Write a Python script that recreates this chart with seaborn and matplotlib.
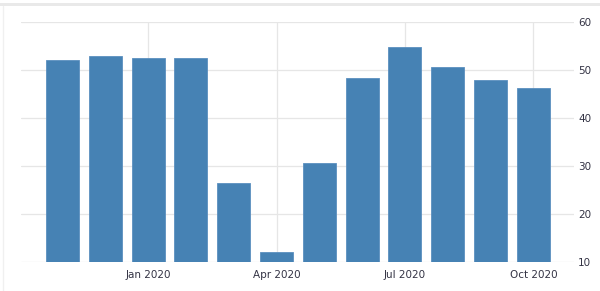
import matplotlib
matplotlib.use("Agg")
import matplotlib.pyplot as plt
import seaborn as sns
import pandas as pd
from matplotlib.patches import Rectangle
from matplotlib.lines import Line2D

months = ["Nov 2019", "Dec 2019", "Jan 2020", "Feb 2020", "Mar 2020", "Apr 2020",
          "May 2020", "Jun 2020", "Jul 2020", "Aug 2020", "Sep 2020", "Oct 2020"]
values = [52.0, 52.9, 52.5, 52.6, 26.4, 12.0, 30.6, 48.3, 54.7, 50.6, 48.0, 46.2]
shown_ticks = ["Jan 2020", "Apr 2020", "Jul 2020", "Oct 2020"]
y_ticks = [10, 20, 30, 40, 50, 60]

df = pd.DataFrame({"month": months, "value": values})

sns.set_theme(style="white")
plt.rcParams['font.family'] = ['DejaVu Sans']

fig = plt.figure(figsize=(6.0, 2.91), dpi=100)
ax = fig.add_axes([21/600, 29/291, (574-21)/600, (262-22)/291])

sns.barplot(data=df, x="month", y="value", color="#4682b4", saturation=1,
            width=0.77, ax=ax, edgecolor="#5b8fbf", linewidth=0.6, zorder=3)

ax.set_ylim(10, 60)
ax.set_xlim(-0.97, 11.95)
ax.set_yticks(y_ticks)
ax.yaxis.tick_right()
ax.set_yticklabels([str(t) for t in y_ticks])
tick_pos = [months.index(m) for m in shown_ticks]
ax.set_xticks(tick_pos)
ax.set_xticklabels(shown_ticks)
ax.set_xlabel("")
ax.set_ylabel("")
for s in ax.spines.values():
    s.set_visible(False)

ax.grid(True, axis="both", color="#e6e6e6", linewidth=0.9, zorder=0)
ax.set_axisbelow(True)
ax.tick_params(axis="x", length=4, color="#d8d8d8", width=0.9, pad=2,
               labelsize=7.5, labelcolor="#333344")
ax.tick_params(axis="y", length=0, pad=3, labelsize=7.5, labelcolor="#333344")

# screenshot frame: top band and faint left line
fig.add_artist(Rectangle((0, 1 - 6/291), 1, 3/291, transform=fig.transFigure,
                         facecolor="#e9e9e9", edgecolor="none"))
fig.add_artist(Line2D([2.5/600, 2.5/600], [0, 1 - 6/291], transform=fig.transFigure,
                      color="#f0f0f0", linewidth=1))

fig.savefig("out.png", dpi=100)
